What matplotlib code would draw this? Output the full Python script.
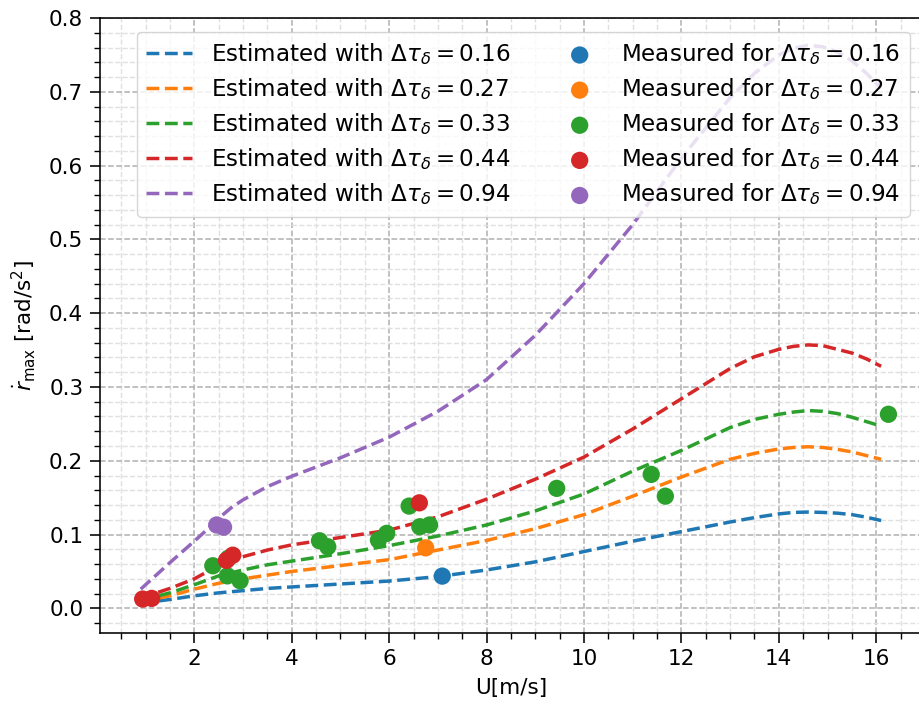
import matplotlib
matplotlib.use("Agg")
import matplotlib.pyplot as plt
from matplotlib.ticker import MultipleLocator, FormatStrFormatter

# Wind speed grid for the estimated curves [m/s]
u_est = [0.9, 1.5, 2.0, 2.25, 2.5, 2.75, 3.0, 3.5, 4.0, 5.0, 6.0, 7.0, 8.0, 9.0,
         10.0, 11.0, 12.0, 13.0, 13.5, 14.0, 14.3, 14.6, 14.9, 15.2, 15.5, 15.8, 16.1]

# Estimated peak yaw acceleration for each delay
est_016 = [0.007, 0.012, 0.017, 0.019, 0.021, 0.0225, 0.024, 0.027, 0.029, 0.033,
           0.037, 0.043, 0.052, 0.063, 0.077, 0.091, 0.104, 0.117, 0.123, 0.128,
           0.130, 0.1305, 0.130, 0.129, 0.127, 0.1235, 0.119]
est_027 = [0.009, 0.017, 0.026, 0.030, 0.034, 0.037, 0.040, 0.045, 0.050, 0.058,
           0.066, 0.079, 0.092, 0.108, 0.127, 0.152, 0.178, 0.202, 0.210, 0.216,
           0.218, 0.219, 0.218, 0.2155, 0.212, 0.207, 0.202]
est_033 = [0.011, 0.021, 0.032, 0.038, 0.044, 0.048, 0.052, 0.059, 0.064, 0.074,
           0.085, 0.098, 0.113, 0.132, 0.155, 0.186, 0.214, 0.245, 0.256, 0.263,
           0.266, 0.268, 0.267, 0.264, 0.259, 0.253, 0.247]
est_044 = [0.014, 0.027, 0.040, 0.049, 0.058, 0.065, 0.070, 0.079, 0.086, 0.096,
           0.106, 0.124, 0.148, 0.175, 0.205, 0.243, 0.284, 0.325, 0.341, 0.351,
           0.355, 0.357, 0.356, 0.351, 0.346, 0.338, 0.328]
est_094 = [0.026, 0.062, 0.091, 0.106, 0.122, 0.136, 0.147, 0.165, 0.179, 0.204,
           0.232, 0.267, 0.310, 0.370, 0.440, 0.520, 0.610, 0.692, 0.725, 0.750,
           0.759, 0.763, 0.761, 0.754, 0.742, 0.725, 0.705]

# Measured points
meas_u_016 = [7.09]
meas_r_016 = [0.0437]
meas_u_027 = [6.75]
meas_r_027 = [0.082]
meas_u_033 = [2.38, 2.70, 2.68, 2.94, 4.57, 4.74, 5.78, 5.95, 6.41, 6.63, 6.83,
              9.44, 11.38, 11.67, 16.25]
meas_r_033 = [0.0577, 0.068, 0.044, 0.0374, 0.0916, 0.0835, 0.0925, 0.1016, 0.1386,
              0.1106, 0.113, 0.1626, 0.1815, 0.152, 0.263]
meas_u_044 = [0.94, 1.125, 2.66, 2.79, 6.62]
meas_r_044 = [0.0126, 0.0135, 0.065, 0.072, 0.143]
meas_u_094 = [2.46, 2.60]
meas_r_094 = [0.113, 0.110]

delays = ["0.16", "0.27", "0.33", "0.44", "0.94"]
colors = ["#1f77b4", "#ff7f0e", "#2ca02c", "#d62728", "#9467bd"]

fs = 15.5
fs_leg = 16.6
plt.rcParams["font.family"] = "DejaVu Sans"
plt.rcParams["mathtext.fontset"] = "dejavusans"

fig = plt.figure(figsize=(9.19, 7.07), dpi=100)
W, H = 919, 707
ax = fig.add_axes([100 / W, (H - 632.7) / H, (923.5 - 100) / W, (632.7 - 18) / H])

est_all = [est_016, est_027, est_033, est_044, est_094]
meas_all = [(meas_u_016, meas_r_016), (meas_u_027, meas_r_027), (meas_u_033, meas_r_033),
            (meas_u_044, meas_r_044), (meas_u_094, meas_r_094)]

line_handles = []
for d, c, y in zip(delays, colors, est_all):
    h, = ax.plot(u_est, y, "--", color=c, lw=2.5,
                 label=r"Estimated with $\Delta\tau_\delta = %s$" % d, zorder=2)
    line_handles.append(h)

scat_handles = []
for d, c, (mu, mr) in zip(delays, colors, meas_all):
    h = ax.scatter(mu, mr, s=155, color=c, edgecolors="none",
                   label=r"Measured for $\Delta\tau_\delta = %s$" % d, zorder=3)
    scat_handles.append(h)

ax.set_xlim(0.064, 16.97)
ax.set_ylim(-0.033, 0.8)
ax.set_xticks([2, 4, 6, 8, 10, 12, 14, 16])
ax.xaxis.set_minor_locator(MultipleLocator(0.5))
ax.yaxis.set_major_locator(MultipleLocator(0.1))
ax.yaxis.set_minor_locator(MultipleLocator(0.02))
ax.yaxis.set_major_formatter(FormatStrFormatter("%.1f"))

ax.grid(which="major", linestyle="--", color="#b0b0b0", lw=1.1)
ax.grid(which="minor", linestyle="--", color="#e0e0e0", lw=1.0)
ax.set_axisbelow(True)

ax.tick_params(which="major", length=7, width=1.15, labelsize=fs, pad=5)
ax.tick_params(which="minor", length=4, width=1.0)
for s in ax.spines.values():
    s.set_linewidth(1.15)

ax.set_xlabel("U[m/s]", fontsize=fs, labelpad=6)
ax.set_ylabel(r"$\dot{r}_{\max}$ [rad/s$^2$]", fontsize=fs, labelpad=8)

ax.legend(line_handles + scat_handles,
          [h.get_label() for h in line_handles + scat_handles],
          ncol=2, loc="upper right", fontsize=fs_leg, framealpha=0.8,
          labelspacing=0.4, borderaxespad=0.6, columnspacing=2.0)

fig.savefig("out.png", dpi=100)
